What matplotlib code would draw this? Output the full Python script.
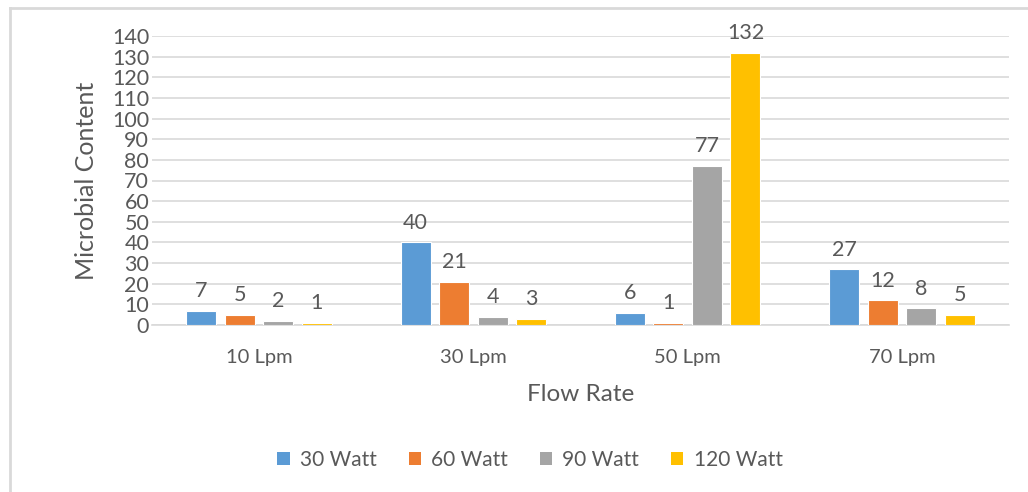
import matplotlib
matplotlib.use("Agg")
import matplotlib.pyplot as plt
import numpy as np
from matplotlib.lines import Line2D
from matplotlib.patches import Patch

categories = ["10 Lpm", "30 Lpm", "50 Lpm", "70 Lpm"]
series_names = ["30 Watt", "60 Watt", "90 Watt", "120 Watt"]
w30 = [7, 40, 6, 27]
w60 = [5, 21, 1, 12]
w90 = [2, 4, 77, 8]
w120 = [1, 3, 132, 5]
series = [w30, w60, w90, w120]
colors = ["#5B9BD5", "#ED7D31", "#A5A5A5", "#FFC000"]
yticks = list(range(0, 150, 10))

plt.rcParams['font.family'] = ['Lato', 'DejaVu Sans']
txt = "#595959"

fig = plt.figure(figsize=(10.28, 4.92), dpi=100)
ax = fig.add_axes([152/1028, 1-325/492, (1009-152)/1028, (325-36)/492])

x = np.arange(len(categories))
bw = 0.14
step = 0.18
for i, (vals, c) in enumerate(zip(series, colors)):
    pos = x + (i - 1.5) * step
    bars = ax.bar(pos, vals, width=bw, color=c, edgecolor="white", linewidth=0.8, label=series_names[i], zorder=3)
    for b, v in zip(bars, vals):
        ax.annotate(str(v), (b.get_x() + b.get_width()/2, b.get_height()),
                    xytext=(0, 7), textcoords="offset points", ha="center", va="bottom",
                    fontsize=15.5, color=txt)

ax.set_xlim(-0.5, 3.5)
ax.set_ylim(0, 140)
ax.set_yticks(yticks)
ax.set_xticks(x)
ax.set_xticklabels(categories, fontsize=14.5)
ax.yaxis.grid(True, color="#D9D9D9", linewidth=1.2, zorder=0)
for s in ["top", "right", "left"]:
    ax.spines[s].set_visible(False)
ax.spines["bottom"].set_color("#D9D9D9")
ax.spines["bottom"].set_linewidth(1.2)
ax.tick_params(axis="both", length=0, colors=txt)
ax.tick_params(axis="y", labelsize=15.5, pad=2)
ax.tick_params(axis="x", pad=17)
for lab in ax.get_yticklabels():
    lab.set_ha("right")

ax.set_xlabel("Flow Rate", fontsize=17.5, color=txt, labelpad=13)
ax.set_ylabel("Microbial Content", fontsize=18, color=txt, labelpad=10)

handles = [Patch(facecolor=c, edgecolor="none") for c in colors]
leg = fig.legend(handles, series_names, loc="center", bbox_to_anchor=(530/1028, 1-460/492),
                 ncol=4, frameon=False, fontsize=15, handlelength=0.6, handleheight=0.6,
                 columnspacing=1.5, handletextpad=0.5, labelcolor=txt)

# figure border (left and top visible)
fig.add_artist(Line2D([10/1028, 10/1028], [0, 1-8/492], color="#D9D9D9", linewidth=2, transform=fig.transFigure))
fig.add_artist(Line2D([10/1028, 1], [1-8/492, 1-8/492], color="#D9D9D9", linewidth=2, transform=fig.transFigure))

fig.savefig("out.png", dpi=100)
